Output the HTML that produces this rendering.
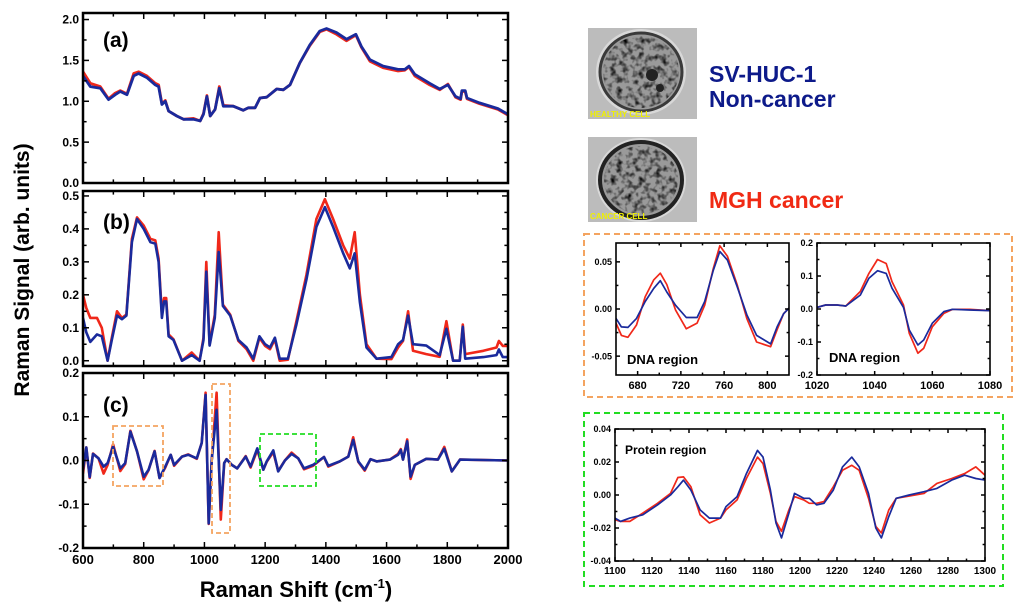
<!DOCTYPE html>
<html><head><meta charset="utf-8">
<style>
html,body{margin:0;padding:0;background:#fff;}
body{width:1024px;height:611px;overflow:hidden;font-family:"Liberation Sans",sans-serif;}
svg text{font-family:"Liberation Sans",sans-serif;font-weight:bold;}
</style></head>
<body>
<svg id="fig" width="1024" height="611" viewBox="0 0 1024 611" xmlns="http://www.w3.org/2000/svg">
  <defs>
    <filter id="mottle" x="0" y="0" width="100%" height="100%">
      <feTurbulence type="fractalNoise" baseFrequency="0.18" numOctaves="2" seed="3" result="n"/>
      <feColorMatrix in="n" type="matrix" values="0 0 0 0 0  0 0 0 0 0  0 0 0 0 0  0 0 0 -2.2 1.25" result="a"/>
      <feComposite in="a" in2="SourceGraphic" operator="in"/>
    </filter>
  </defs>
  <text x="0" y="0" font-size="21" text-anchor="middle" transform="translate(29,270) rotate(-90)">Raman Signal  (arb. units)</text>
  <text x="296" y="597" font-size="22" text-anchor="middle">Raman Shift (cm<tspan font-size="13" dy="-9">-1</tspan><tspan dy="9">)</tspan></text>

  <g>
    <rect x="588" y="28" width="109" height="91" fill="#bcbcbc"/>
    <ellipse cx="641" cy="72" rx="45" ry="43" fill="#d8d8d8"/>
    <ellipse cx="641" cy="72" rx="41" ry="39" fill="#9a9a9a" stroke="#3a3a3a" stroke-width="3"/>
    <ellipse cx="641" cy="72" rx="38" ry="36" fill="#000" filter="url(#mottle)"/>
    <circle cx="652" cy="75" r="6" fill="#222"/>
    <circle cx="660" cy="88" r="4" fill="#222"/>
    <text x="590" y="117" font-size="8" fill="#f0f000">HEALTHY CELL</text>
  </g>
  <g>
    <rect x="588" y="137" width="109" height="85" fill="#bcbcbc"/>
    <ellipse cx="641" cy="180" rx="45" ry="42" fill="#d8d8d8"/>
    <ellipse cx="641" cy="180" rx="41" ry="38" fill="#9a9a9a" stroke="#222" stroke-width="4"/>
    <ellipse cx="641" cy="180" rx="37" ry="34" fill="#000" filter="url(#mottle)"/>
    <text x="590" y="219" font-size="8" fill="#f0f000">CANCER CELL</text>
  </g>
  <text x="709" y="82" font-size="23" fill="#0d1a8a">SV-HUC-1</text>
  <text x="709" y="107" font-size="23" fill="#0d1a8a">Non-cancer</text>
  <text x="709" y="208" font-size="23" fill="#f02a14">MGH cancer</text>

  <rect x="584" y="234" width="428" height="163" fill="none" stroke="#f4a460" stroke-width="2" stroke-dasharray="6 4"/>
  <rect x="584" y="413" width="419" height="173" fill="none" stroke="#22dd22" stroke-width="2" stroke-dasharray="6 4"/>
  <g id="plots"></g>
</svg>
<script>
// ---- Panel (a) data ----
const xA = [600,624,657,684,706,723,745,767,783,810,838,849,860,871,882,909,931,964,986,997,1008,1019,1035,1049,1062,1095,1128,1145,1167,1183,1205,1238,1260,1282,1314,1347,1380,1402,1435,1468,1499,1517,1545,1589,1638,1660,1674,1693,1742,1775,1802,1827,1844,1848,1859,1865,1906,1967,2000];
const blueA = [1.31,1.18,1.16,1.02,1.08,1.12,1.08,1.31,1.34,1.29,1.20,1.18,0.96,1.0,0.88,0.82,0.78,0.78,0.76,0.84,1.06,0.82,0.9,1.16,0.94,0.94,0.89,0.92,0.92,1.04,1.05,1.15,1.14,1.20,1.47,1.69,1.86,1.89,1.84,1.76,1.82,1.67,1.51,1.43,1.39,1.39,1.43,1.33,1.22,1.15,1.20,1.06,1.03,1.13,1.13,1.04,0.98,0.91,0.84];
const redA = [1.36,1.22,1.18,1.03,1.10,1.13,1.09,1.34,1.36,1.31,1.22,1.20,0.97,1.01,0.88,0.82,0.78,0.79,0.76,0.85,1.07,0.82,0.9,1.18,0.95,0.94,0.89,0.92,0.92,1.04,1.05,1.15,1.14,1.20,1.47,1.68,1.85,1.88,1.82,1.74,1.81,1.66,1.49,1.41,1.37,1.38,1.42,1.31,1.20,1.14,1.21,1.05,1.02,1.12,1.12,1.03,0.97,0.90,0.83];
// ---- Panel (b) data ----
const xB = [600,611,624,646,662,681,695,712,728,743,761,778,800,822,838,849,860,867,874,882,898,926,958,984,997,1006,1017,1034,1047,1061,1085,1112,1139,1161,1181,1200,1216,1232,1248,1275,1303,1336,1369,1397,1424,1457,1479,1495,1512,1534,1567,1616,1638,1654,1671,1687,1731,1775,1797,1819,1841,1851,1859,1919,1962,1970,1983,2000];
const blueB = [0.13,0.086,0.057,0.08,0.074,0.0,0.063,0.137,0.126,0.137,0.36,0.43,0.40,0.36,0.355,0.30,0.13,0.18,0.18,0.074,0.063,0.0,0.017,0.0,0.063,0.27,0.046,0.13,0.33,0.166,0.137,0.063,0.04,0.006,0.074,0.05,0.04,0.07,0.006,0.006,0.11,0.246,0.406,0.466,0.406,0.326,0.28,0.326,0.177,0.04,0.006,0.011,0.05,0.063,0.137,0.05,0.046,0.017,0.097,0.0,0.0,0.103,0.006,0.011,0.017,0.034,0.011,0.011];
const redB = [0.20,0.16,0.13,0.13,0.10,0.0,0.07,0.15,0.13,0.14,0.37,0.435,0.41,0.37,0.365,0.31,0.14,0.19,0.19,0.08,0.065,0.0,0.025,0.0,0.07,0.30,0.05,0.14,0.39,0.17,0.14,0.06,0.035,0.0,0.07,0.045,0.035,0.065,0.0,0.003,0.12,0.26,0.43,0.49,0.43,0.35,0.31,0.39,0.20,0.05,0.006,0.005,0.04,0.06,0.15,0.03,0.02,0.012,0.12,0.0,0.0,0.11,0.02,0.03,0.04,0.06,0.045,0.045];
// ---- Panel (c) data ----
const xC = [600,611,622,633,651,668,681,699,723,739,756,778,800,816,836,852,871,889,900,926,947,975,991,1004,1014,1024,1040,1054,1065,1073,1090,1108,1136,1152,1174,1194,1205,1227,1243,1265,1287,1309,1328,1358,1394,1408,1446,1474,1490,1507,1528,1547,1567,1611,1638,1647,1654,1668,1679,1693,1731,1769,1790,1815,1842,2000];
const blueC = [-0.021,0.03,-0.038,0.015,0.005,-0.014,-0.006,0.032,-0.018,-0.006,0.066,0.021,-0.037,-0.021,0.021,-0.04,-0.014,0.013,-0.01,0.009,0.013,0.005,0.04,0.15,-0.144,0.0,0.116,-0.113,-0.006,0.003,-0.01,-0.018,0.009,-0.014,0.028,-0.021,-0.002,0.023,-0.025,0.0,0.015,0.005,-0.018,-0.01,0.008,-0.012,-0.002,0.009,0.047,-0.002,-0.021,0.003,-0.002,0.002,0.013,0.024,0.002,0.044,-0.037,-0.01,0.004,0.002,0.027,-0.025,0.002,0.0];
const redC = [-0.03,0.03,-0.04,0.016,0.005,-0.03,-0.01,0.037,-0.024,-0.008,0.068,0.021,-0.043,-0.022,0.022,-0.04,-0.016,0.013,-0.012,0.009,0.014,0.004,0.04,0.155,-0.145,0.0,0.155,-0.135,-0.006,0.003,-0.01,-0.018,0.01,-0.016,0.024,-0.021,-0.003,0.019,-0.024,0.0,0.018,0.005,-0.02,-0.012,0.008,-0.014,-0.002,0.009,0.053,-0.003,-0.023,0.003,-0.002,0.002,0.015,0.026,0.002,0.048,-0.042,-0.01,0.004,0.002,0.031,-0.025,0.002,0.0];
// ---- DNA inset 1 (660-820) ----
const xD1 = [660,665,671,679,687,695,701,707,715,725,735,742,750,756,763,772,781,790,803,809,815,820];
const blueD1 = [-0.010,-0.019,-0.0195,-0.01,0.008,0.022,0.030,0.018,0.004,-0.009,-0.009,0.008,0.041,0.061,0.052,0.024,-0.006,-0.028,-0.037,-0.019,-0.005,0.001];
const redD1 = [-0.015,-0.028,-0.030,-0.017,0.013,0.031,0.038,0.026,-0.001,-0.021,-0.015,0.004,0.043,0.067,0.056,0.026,-0.010,-0.035,-0.040,-0.022,-0.005,0.001];
// ---- DNA inset 2 (1020-1080) ----
const xD2 = [1020,1023,1027,1030,1035,1038,1041,1044,1046,1050,1052,1055,1057,1060,1064,1067,1073,1080];
const blueD2 = [0.005,0.012,0.012,0.009,0.042,0.093,0.116,0.108,0.063,0.005,-0.064,-0.109,-0.094,-0.043,-0.008,-0.001,-0.003,-0.005];
const redD2 = [0.005,0.012,0.012,0.009,0.053,0.108,0.150,0.138,0.083,0.012,-0.074,-0.134,-0.119,-0.054,-0.013,-0.001,-0.001,-0.005];
// ---- Protein inset (1100-1300) ----
const xP = [1100,1103,1108,1115,1123,1130,1134,1137,1141,1146,1151,1157,1160,1166,1171,1177,1180,1184,1187,1190,1194,1197,1202,1205,1209,1213,1218,1223,1228,1232,1237,1241,1244,1248,1252,1259,1267,1274,1282,1289,1295,1300];
const blueP = [-0.014,-0.016,-0.014,-0.012,-0.006,0.0,0.005,0.009,0.003,-0.009,-0.014,-0.014,-0.007,-0.001,0.013,0.027,0.023,0.003,-0.017,-0.026,-0.011,0.001,-0.002,-0.002,-0.006,-0.005,0.003,0.017,0.023,0.017,0.001,-0.02,-0.026,-0.013,-0.002,0.0,0.002,0.004,0.009,0.012,0.01,0.009];
const redP = [-0.015,-0.016,-0.016,-0.011,-0.005,0.001,0.0106,0.011,0.005,-0.012,-0.017,-0.014,-0.009,-0.003,0.010,0.023,0.019,0.001,-0.016,-0.022,-0.009,-0.001,-0.003,-0.005,-0.005,-0.004,0.005,0.015,0.018,0.015,-0.002,-0.019,-0.023,-0.009,-0.002,-0.0006,0.001,0.007,0.010,0.013,0.017,0.012];

const NS='http://www.w3.org/2000/svg';
const root=document.getElementById('plots');
function mk(tag,attrs,parent){const e=document.createElementNS(NS,tag);for(const k in attrs)e.setAttribute(k,attrs[k]);(parent||root).appendChild(e);return e;}

function panel(name,p,xs,series,opt){
  const g=mk('g',{});
  
  
  const sx=v=>p.x0+(v-p.xmin)/(p.xmax-p.xmin)*(p.x1-p.x0);
  const sy=v=>p.y1-(v-p.ymin)/(p.ymax-p.ymin)*(p.y1-p.y0);
  const cid='c'+name;
  const cp=mk('clipPath',{id:cid},g);mk('rect',{x:p.x0,y:p.y0,width:p.x1-p.x0,height:p.y1-p.y0},cp);
  series.forEach(s=>{
    const d=s.vals.map((v,i)=>(i?'L':'M')+sx(xs[i]).toFixed(1)+','+sy(v).toFixed(1)).join('');
    const path=mk('path',{d:d,fill:'none',stroke:s.color,'stroke-width':opt.lw,'stroke-linejoin':'round','clip-path':'url(#'+cid+')'},g);
    
    
  });
  const tl=opt.tl||5;
  opt.xticks.forEach(t=>{const X=sx(t.v);const L=t.minor?tl*0.6:tl;
    mk('line',{x1:X,x2:X,y1:p.y1,y2:p.y1-L,stroke:'#000','stroke-width':1.5},g);
    mk('line',{x1:X,x2:X,y1:p.y0,y2:p.y0+L,stroke:'#000','stroke-width':1.5},g);
    if(t.label!==undefined&&opt.xlabels){const tx=mk('text',{x:X,y:p.y1+opt.xfs+3,'font-size':opt.xfs,'text-anchor':'middle'},g);tx.textContent=t.label;
      
      }
  });
  opt.yticks.forEach(t=>{const Y=sy(t.v);const L=t.minor?tl*0.6:tl;
    mk('line',{x1:p.x0,x2:p.x0+L,y1:Y,y2:Y,stroke:'#000','stroke-width':1.5},g);
    mk('line',{x1:p.x1,x2:p.x1-L,y1:Y,y2:Y,stroke:'#000','stroke-width':1.5},g);
    if(t.label!==undefined){const tx=mk('text',{x:p.x0-4,y:Y+opt.yfs*0.35,'font-size':opt.yfs,'text-anchor':'end'},g);tx.textContent=t.label;
      
      }
  });
  mk('rect',{x:p.x0,y:p.y0,width:p.x1-p.x0,height:p.y1-p.y0,fill:'none',stroke:'#000','stroke-width':opt.fw||2.5},g);
  if(opt.title){const tx=mk('text',{x:opt.title.x,y:opt.title.y,'font-size':opt.title.fs},g);tx.textContent=opt.title.t;
    
    }
  return {sx,sy,g};
}
function ticks(a,b,step,minor,fmt){const r=[];for(let v=a;v<=b+1e-9;v+=minor){const isMaj=Math.abs(Math.round((v-a)/step)*step-(v-a))<1e-9;r.push(isMaj?{v:v,label:fmt(v)}:{v:v,minor:true});}return r;}
const fx=v=>String(Math.round(v));
const xMain=ticks(600,2000,200,100,fx);
const BLUE='#1a2a9c',RED='#f0281a';

panel('panel-a',{x0:83,x1:508,y0:13,y1:183,xmin:600,xmax:2000,ymin:0,ymax:2.08},xA,
 [{name:'red-series-a',color:RED,vals:redA},{name:'blue-series-a',color:BLUE,vals:blueA}],
 {lw:2.8,xticks:xMain,xlabels:false,yticks:ticks(0,2,0.5,0.25,v=>v.toFixed(1)),yfs:12,tl:6,title:{x:103,y:47,t:'(a)',fs:21}});
panel('panel-b',{x0:83,x1:508,y0:191,y1:366,xmin:600,xmax:2000,ymin:-0.016,ymax:0.515},xB,
 [{name:'red-series-b',color:RED,vals:redB},{name:'blue-series-b',color:BLUE,vals:blueB}],
 {lw:2.6,xticks:xMain,xlabels:false,yticks:ticks(0,0.5,0.1,0.05,v=>v.toFixed(1)),yfs:12,tl:6,title:{x:103,y:229,t:'(b)',fs:21}});
panel('panel-c',{x0:83,x1:508,y0:373,y1:548,xmin:600,xmax:2000,ymin:-0.2,ymax:0.2},xC,
 [{name:'red-series-c',color:RED,vals:redC},{name:'blue-series-c',color:BLUE,vals:blueC}],
 {lw:2.6,xticks:xMain,xlabels:true,xfs:13,yticks:ticks(-0.2,0.2,0.1,0.05,v=>(Math.abs(v)<1e-9?'0.0':v.toFixed(1))),yfs:12,tl:6,title:{x:103,y:412,t:'(c)',fs:21}});
[['dna-highlight-1',113,426,50,60,'#f4a460'],['dna-highlight-2',212,384,18,149,'#f4a460'],['protein-highlight',260,434,56,52,'#22dd22']].forEach(b=>{
  const r=mk('rect',{x:b[1],y:b[2],width:b[3],height:b[4],fill:'none',stroke:b[5],'stroke-width':1.8,'stroke-dasharray':'5 3'});
  
  
});
panel('dna-inset-1',{x0:616,x1:789,y0:243,y1:375,xmin:660,xmax:820,ymin:-0.07,ymax:0.07},xD1,
 [{name:'red-series-dna1',color:RED,vals:redD1},{name:'blue-series-dna1',color:BLUE,vals:blueD1}],
 {lw:1.7,fw:1.6,xticks:ticks(680,800,40,20,fx),xlabels:true,xfs:11,yticks:ticks(-0.05,0.05,0.05,0.025,v=>(Math.abs(v)<1e-9?'0.00':v.toFixed(2))),yfs:9,tl:4,title:{x:627,y:364,t:'DNA region',fs:13}});
panel('dna-inset-2',{x0:817,x1:990,y0:243,y1:375,xmin:1020,xmax:1080,ymin:-0.2,ymax:0.2},xD2,
 [{name:'red-series-dna2',color:RED,vals:redD2},{name:'blue-series-dna2',color:BLUE,vals:blueD2}],
 {lw:1.7,fw:1.6,xticks:ticks(1020,1080,20,10,fx),xlabels:true,xfs:11,yticks:ticks(-0.2,0.2,0.1,0.05,v=>(Math.abs(v)<1e-9?'0.0':v.toFixed(1))),yfs:9,tl:4,title:{x:829,y:362,t:'DNA region',fs:13}});
panel('protein-inset',{x0:615,x1:985,y0:429,y1:561,xmin:1100,xmax:1300,ymin:-0.04,ymax:0.04},xP,
 [{name:'red-series-protein',color:RED,vals:redP},{name:'blue-series-protein',color:BLUE,vals:blueP}],
 {lw:1.7,fw:1.6,xticks:ticks(1100,1300,20,10,fx),xlabels:true,xfs:10,yticks:ticks(-0.04,0.04,0.02,0.01,v=>(Math.abs(v)<1e-9?'0.00':v.toFixed(2))),yfs:9,tl:4,title:{x:625,y:454,t:'Protein region',fs:12}});
</script>
</body></html>
